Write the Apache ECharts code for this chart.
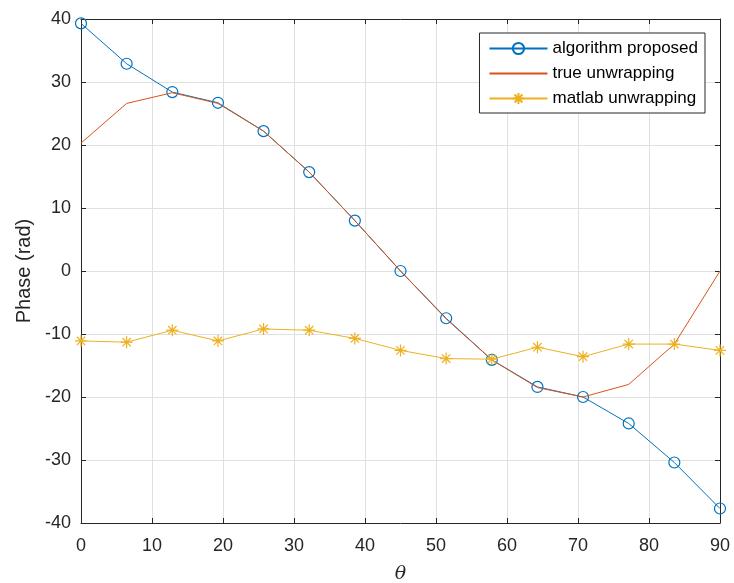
<!DOCTYPE html>
<html>
<head>
<meta charset="utf-8">
<script src="https://cdn.jsdelivr.net/npm/echarts@6/dist/echarts.min.js"></script>
<style>
  html, body { margin: 0; padding: 0; background: #fff; }
  #chart { width: 734px; height: 583px; }
</style>
</head>
<body>
<div id="chart"></div>
<script>
var theta = [0, 6.43, 12.86, 19.29, 25.71, 32.14, 38.57, 45, 51.43, 57.86, 64.29, 70.71, 77.14, 83.57, 90];
var proposed = [39.3, 32.9, 28.4, 26.7, 22.2, 15.7, 8.0, 0.0, -7.5, -14.1, -18.4, -20.0, -24.2, -30.4, -37.7];
var trueUnwrap = [20.3, 26.6, 28.3, 26.6, 22.2, 15.7, 8.0, 0.0, -7.6, -14.1, -18.5, -20.0, -18.0, -11.6, 0.0];
var matlabUnwrap = [-11.1, -11.3, -9.4, -11.1, -9.2, -9.4, -10.7, -12.6, -13.9, -14.0, -12.1, -13.6, -11.6, -11.6, -12.6];

function pairs(ys) {
  return theta.map(function (x, i) { return [x, ys[i]]; });
}

var axisColor = '#262626';
var font = 'Liberation Sans';
var asterisk = 'path://M0,5L10,5M5,0L5,10M1.5,1.5L8.5,8.5M1.5,8.5L8.5,1.5';

var chart = echarts.init(document.getElementById('chart'), null, { renderer: 'canvas' });

var option = {
  animation: false,
  textStyle: { fontFamily: font },
  grid: { left: 81, top: 19, right: 14, bottom: 60, containLabel: false, outerBoundsMode: 'none' },
  legend: {
    orient: 'vertical',
    top: 33,
    right: 29,
    padding: [7, 7, 6, 9],
    itemWidth: 58,
    itemHeight: 14,
    itemGap: 8,
    borderColor: axisColor,
    borderWidth: 1,
    borderRadius: 0,
    backgroundColor: '#fff',
    textStyle: { fontSize: 17, color: '#000', fontFamily: font },
    data: [
      'algorithm proposed',
      { name: 'true unwrapping', itemStyle: { opacity: 0 } },
      'matlab unwrapping'
    ]
  },
  xAxis: [{
    type: 'value', min: 0, max: 90, interval: 10,
    name: 'θ', nameLocation: 'middle', nameGap: 42,
    nameTextStyle: { fontSize: 19, fontStyle: 'italic', fontFamily: 'DejaVu Serif', color: axisColor },
    axisLine: { show: true, onZero: false, lineStyle: { color: axisColor } },
    axisTick: { show: true, inside: true, length: 5, lineStyle: { color: axisColor } },
    axisLabel: { fontSize: 18, color: axisColor, margin: 14 },
    splitLine: { show: true, lineStyle: { color: '#e0e0e0' } }
  }, {
    type: 'value', position: 'top', min: 0, max: 90, interval: 10,
    axisLine: { show: true, onZero: false, lineStyle: { color: axisColor } },
    axisTick: { show: true, inside: true, length: 5, lineStyle: { color: axisColor } },
    axisLabel: { show: false },
    splitLine: { show: false }
  }],
  yAxis: [{
    type: 'value', min: -40, max: 40, interval: 10,
    name: 'Phase (rad)', nameLocation: 'middle', nameGap: 47,
    nameTextStyle: { fontSize: 20, color: axisColor },
    axisLine: { show: true, onZero: false, lineStyle: { color: axisColor } },
    axisTick: { show: true, inside: true, length: 5, lineStyle: { color: axisColor } },
    axisLabel: { fontSize: 18, color: axisColor, margin: 10 },
    splitLine: { show: true, lineStyle: { color: '#e0e0e0' } }
  }, {
    type: 'value', position: 'right', min: -40, max: 40, interval: 10,
    axisLine: { show: true, onZero: false, lineStyle: { color: axisColor } },
    axisTick: { show: true, inside: true, length: 5, lineStyle: { color: axisColor } },
    axisLabel: { show: false },
    splitLine: { show: false }
  }],
  series: [{
    name: 'algorithm proposed',
    type: 'line',
    data: pairs(proposed),
    color: '#0072BD',
    symbol: 'circle',
    symbolSize: 11,
    lineStyle: { width: 1, color: '#0072BD' },
    itemStyle: { color: 'rgba(0,0,0,0)', borderColor: '#0072BD', borderWidth: 1.2 },
    z: 2
  }, {
    name: 'true unwrapping',
    type: 'line',
    data: pairs(trueUnwrap),
    color: '#D95319',
    symbol: 'none',
    lineStyle: { width: 1 },
    z: 3
  }, {
    name: 'matlab unwrapping',
    type: 'line',
    data: pairs(matlabUnwrap),
    color: '#EDB120',
    symbol: asterisk,
    symbolSize: 12,
    lineStyle: { width: 1 },
    itemStyle: { color: '#EDB120', borderColor: '#EDB120', borderWidth: 1.2 },
    z: 4
  }]
};

chart.setOption(option);
</script>
</body>
</html>
